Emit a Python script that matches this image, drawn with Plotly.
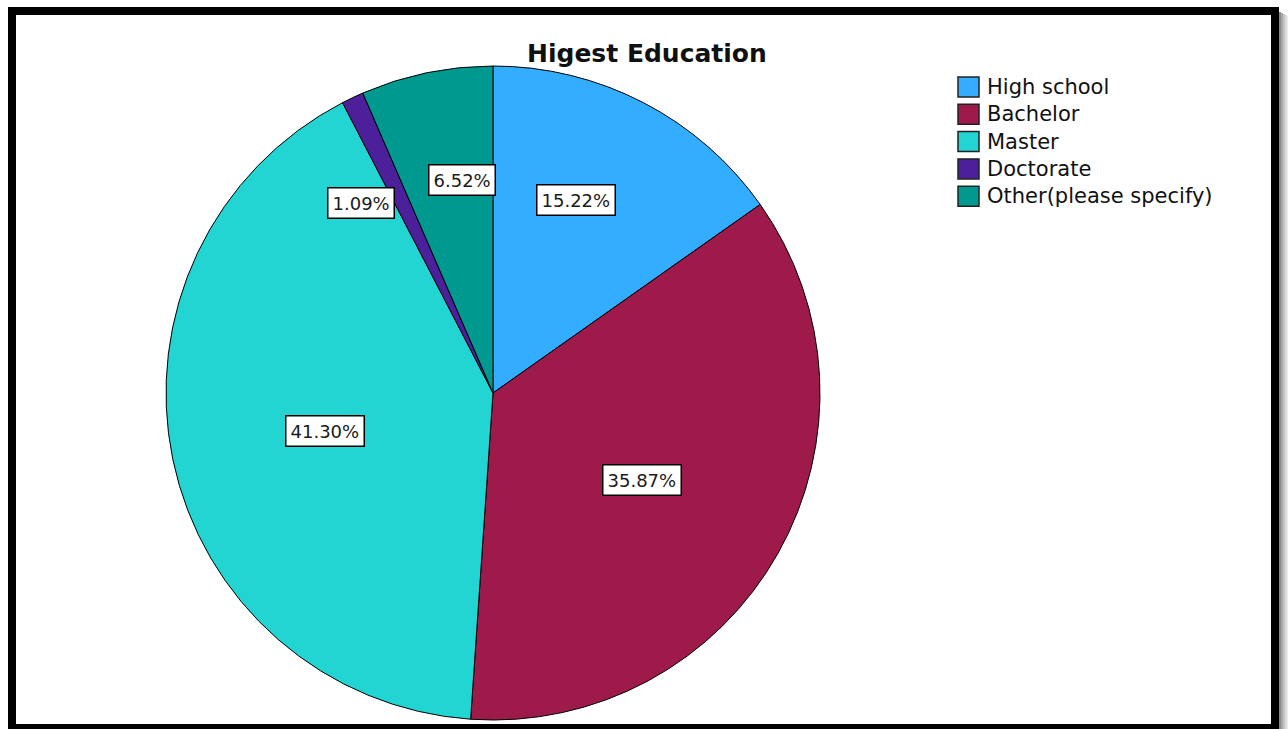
import math
import plotly.graph_objects as go

# Survey answers for highest education level (share of respondents, %)
categories = ["High school", "Bachelor", "Master", "Doctorate", "Other(please specify)"]
percentages = [15.22, 35.87, 41.30, 1.09, 6.52]
slice_colors = ["#33adff", "#9e1a4b", "#22d5d3", "#4c1f9b", "#00998f"]

# Label placement: radial fraction of the pie radius and an angular nudge (deg)
label_radius = [0.643, 0.528, 0.527, 0.707, 0.658]
label_nudge = [-4.1, 0.9, -1.0, -9.4, 3.4]

W, H = 1288, 729
cx, cy, R = 493, 393, 327  # pie centre and radius in pixels


def px(x):
    return x / W


def py(y):
    return 1 - y / H


fig = go.Figure(
    go.Pie(
        labels=categories,
        values=percentages,
        sort=False,
        direction="clockwise",
        rotation=0,
        marker=dict(colors=slice_colors, line=dict(color="black", width=1)),
        textinfo="none",
        hoverinfo="label+percent",
        showlegend=False,
        domain=dict(x=[px(cx - R), px(cx + R)], y=[py(cy + R), py(cy - R)]),
    )
)

shapes = []
# framed border with a soft shadow on the right
shapes.append(dict(type="rect", xref="paper", yref="paper", layer="below",
                   x0=px(8), x1=px(1279), y0=py(740), y1=py(7),
                   fillcolor="black", line=dict(width=0)))
shapes.append(dict(type="rect", xref="paper", yref="paper", layer="below",
                   x0=px(16), x1=px(1271), y0=py(724), y1=py(15),
                   fillcolor="white", line=dict(width=0)))
for i, g in enumerate(["#8a8a8a", "#a8a8a8", "#c4c4c4", "#dcdcdc", "#eeeeee"]):
    shapes.append(dict(type="rect", xref="paper", yref="paper", layer="below",
                       x0=px(1279 + 2 * i), x1=px(1281 + 2 * i), y0=py(740), y1=py(12 + i),
                       fillcolor=g, line=dict(width=0)))

annotations = []
# title
annotations.append(dict(text="<b>Higest Education</b>", xref="paper", yref="paper",
                        x=px(647), y=py(53), xanchor="center", yanchor="middle",
                        showarrow=False, font=dict(family="DejaVu Sans", size=25, color="#111")))

# percentage labels in boxes, placed along each slice's mid-angle
total = sum(percentages)
cum = 0.0
for v, f, d in zip(percentages, label_radius, label_nudge):
    mid = (cum + v / 2) / total * 360 + d
    cum += v
    a = math.radians(mid)
    lx = cx + f * R * math.sin(a)
    ly = cy - f * R * math.cos(a)
    annotations.append(dict(text=f"{v:.2f}%", xref="paper", yref="paper",
                            x=px(lx), y=py(ly), xanchor="center", yanchor="middle",
                            showarrow=False, bgcolor="white", bordercolor="black",
                            borderwidth=1.5, borderpad=4,
                            font=dict(family="DejaVu Sans", size=18, color="#1a1a1a")))

# legend: swatches and names
leg_x, leg_y0, leg_step = 958, 87, 27.3
for i, (name, col) in enumerate(zip(categories, slice_colors)):
    yc = leg_y0 + i * leg_step
    shapes.append(dict(type="rect", xref="paper", yref="paper",
                       x0=px(leg_x), x1=px(leg_x + 21), y0=py(yc + 10), y1=py(yc - 10),
                       fillcolor=col, line=dict(color="#222", width=1.5)))
    annotations.append(dict(text=name, xref="paper", yref="paper",
                            x=px(leg_x + 27), y=py(yc), xanchor="left", yanchor="middle",
                            showarrow=False,
                            font=dict(family="DejaVu Sans", size=21, color="#111")))

fig.update_layout(
    width=W, height=H,
    margin=dict(l=0, r=0, t=0, b=0, pad=0),
    paper_bgcolor="white",
    plot_bgcolor="white",
    shapes=shapes,
    annotations=annotations,
    showlegend=False,
)

fig.write_html("out.html")
